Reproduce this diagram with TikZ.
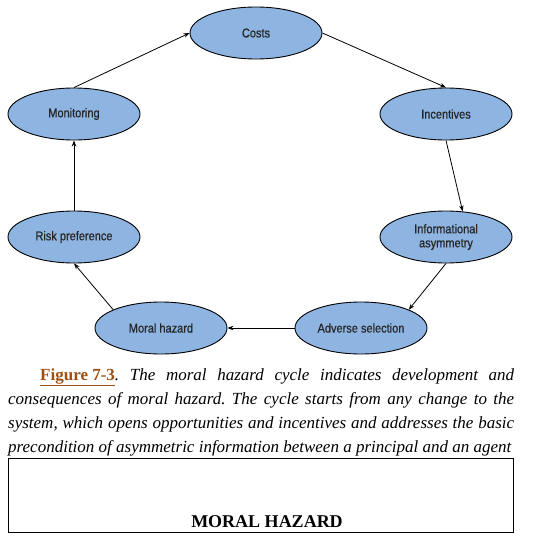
\documentclass[tikz,border=0pt]{standalone}
\usepackage{fontspec}
\setmainfont{Liberation Serif}
\newfontfamily\ovalfont[FakeStretch=0.86,FakeBold=0.6]{Liberation Sans}
\usepackage{tikz}
\usetikzlibrary{arrows.meta,shapes.geometric}
\definecolor{ovalblue}{RGB}{142,180,226}
\definecolor{figbrown}{RGB}{158,80,18}
\tikzset{
  oval/.style={ellipse, draw=black, line width=0.9pt, fill=ovalblue, minimum width=132pt, minimum height=52pt, inner sep=0pt, text=black!85, font=\ovalfont\fontsize{12.8}{14}\selectfont, align=center},
  arr/.style={-{Stealth[length=6pt,width=4.5pt]}, line width=0.8pt}
}
\frenchspacing

\begin{document}
\begin{tikzpicture}[x=1pt, y=-1pt]
		%%%%% START %%%%%
		\useasboundingbox (0, 0) rectangle (554, 544);
		
		\node[oval] (costs) at (256, 33) {Costs};
		\node[oval] (incent) at (446, 114) {Incentives};
		\node[oval] (infoasym) at (446, 237) {Informational\\asymmetry};
		\node[oval] (adverse) at (361, 328) {Adverse selection};
		\node[oval] (moral) at (161, 328) {Moral hazard};
		\node[oval] (risk) at (74, 237) {Risk preference};
		\node[oval] (monitor) at (74, 114) {Monitoring};
		
		\draw[arr] (costs.east) -- (incent.north);
		\draw[arr] (incent.south) -- (infoasym.57);
		\draw[arr] (infoasym.south) -- (adverse.21);
		\draw[arr] (adverse.west) -- (moral.east);
		\draw[arr] (moral.159) -- (risk.south);
		\draw[arr] (risk.north) -- (monitor.south);
		\draw[arr] (monitor.north) -- (costs.west);
		
		% caption under the cycle
		\node[anchor=north west, inner sep=0pt, text width=506pt, align=justify, font=\itshape\fontsize{17}{24}\selectfont] (caption) at (8, 368) {\hspace*{32pt}{\upshape\bfseries\color{figbrown}\underline{Figure 7-3}}. The moral hazard cycle indicates development and\linebreak consequences of moral hazard. The cycle starts from any change to the\linebreak system, which opens opportunities and incentives and addresses the basic\linebreak precondition of asymmetric information between a principal and an agent\par};
		
		\draw[line width=0.8pt] (8, 458) rectangle (513, 532);
		\node[anchor=base, inner sep=0pt, font=\bfseries\fontsize{18}{20}\selectfont] (title) at (267, 527) {MORAL HAZARD};
		
		%%%%% END %%%%%
\end{tikzpicture}
\end{document}
